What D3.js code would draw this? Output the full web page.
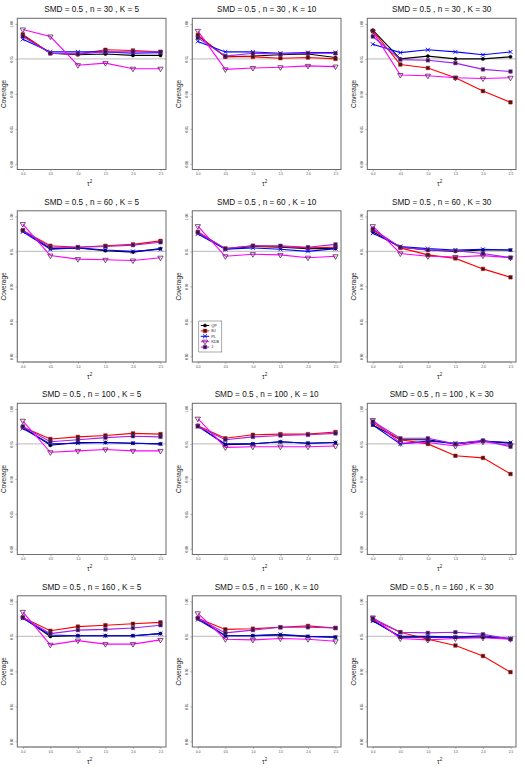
<!DOCTYPE html>
<html>
<head>
<meta charset="utf-8">
<script src="https://cdn.jsdelivr.net/npm/d3@7"></script>
<style>
  body { margin: 0; background: #fff; }
  svg { display: block; font-family: "Liberation Sans", Arial, sans-serif; }
</style>
</head>
<body>
<svg id="chart" width="525" height="770"></svg>
<script>
// x values (tau^2) and panel grid
const tau2 = [0, 0.5, 1.0, 1.5, 2.0, 2.5];
const tauLabels = ['0.0', '0.5', '1.0', '1.5', '2.0', '2.5'];
const yTicks = [0.80, 0.85, 0.90, 0.95, 1.00];
const nVals = [30, 60, 100, 160];
const kVals = [5, 10, 30];
const methods = ['QP', 'BJ', 'PL', 'KDB', 'J'];
const colors = ['#000000', '#ff0000', '#0000ff', '#ff00ff', '#a020f0'];

// coverage per panel (row-major: n = 30,60,100,160 ; K = 5,10,30)
const qp = [
  [0.984, 0.958, 0.956, 0.957, 0.955, 0.955],
  [0.983, 0.953, 0.954, 0.956, 0.957, 0.952],
  [0.991, 0.950, 0.954, 0.950, 0.950, 0.953],
  [0.980, 0.954, 0.955, 0.951, 0.949, 0.954],
  [0.977, 0.953, 0.957, 0.956, 0.954, 0.954],
  [0.978, 0.956, 0.952, 0.950, 0.952, 0.952],
  [0.974, 0.948, 0.952, 0.952, 0.951, 0.950],
  [0.976, 0.949, 0.950, 0.953, 0.951, 0.952],
  [0.977, 0.956, 0.956, 0.950, 0.954, 0.951],
  [0.977, 0.950, 0.951, 0.951, 0.951, 0.954],
  [0.976, 0.951, 0.951, 0.952, 0.950, 0.949],
  [0.973, 0.949, 0.949, 0.949, 0.949, 0.947]
];
const bj = [
  [0.985, 0.958, 0.957, 0.963, 0.962, 0.960],
  [0.984, 0.953, 0.953, 0.951, 0.952, 0.950],
  [0.990, 0.942, 0.937, 0.923, 0.904, 0.888],
  [0.980, 0.958, 0.956, 0.958, 0.960, 0.965],
  [0.978, 0.954, 0.958, 0.957, 0.955, 0.956],
  [0.981, 0.955, 0.945, 0.940, 0.925, 0.913],
  [0.974, 0.957, 0.960, 0.962, 0.965, 0.964],
  [0.976, 0.958, 0.963, 0.964, 0.964, 0.967],
  [0.980, 0.956, 0.950, 0.933, 0.930, 0.907],
  [0.977, 0.958, 0.964, 0.966, 0.968, 0.970],
  [0.976, 0.960, 0.961, 0.963, 0.965, 0.962],
  [0.974, 0.956, 0.946, 0.937, 0.922, 0.899]
];
const pl = [
  [0.978, 0.960, 0.960, 0.960, 0.958, 0.959],
  [0.975, 0.960, 0.960, 0.958, 0.959, 0.959],
  [0.971, 0.959, 0.963, 0.960, 0.956, 0.960],
  [0.978, 0.953, 0.955, 0.952, 0.950, 0.953],
  [0.975, 0.953, 0.955, 0.953, 0.950, 0.954],
  [0.976, 0.957, 0.954, 0.952, 0.953, 0.952],
  [0.972, 0.950, 0.951, 0.952, 0.951, 0.950],
  [0.975, 0.950, 0.950, 0.953, 0.951, 0.952],
  [0.977, 0.950, 0.954, 0.951, 0.954, 0.952],
  [0.976, 0.952, 0.951, 0.951, 0.951, 0.954],
  [0.974, 0.951, 0.951, 0.953, 0.950, 0.949],
  [0.972, 0.950, 0.950, 0.949, 0.951, 0.947]
];
const kdb = [
  [0.992, 0.982, 0.941, 0.944, 0.936, 0.936],
  [0.990, 0.935, 0.937, 0.938, 0.940, 0.939],
  [0.989, 0.927, 0.926, 0.923, 0.922, 0.923],
  [0.989, 0.944, 0.939, 0.938, 0.937, 0.941],
  [0.986, 0.943, 0.946, 0.945, 0.941, 0.943],
  [0.986, 0.947, 0.943, 0.942, 0.944, 0.941],
  [0.983, 0.938, 0.940, 0.942, 0.940, 0.940],
  [0.986, 0.945, 0.946, 0.946, 0.946, 0.947],
  [0.984, 0.951, 0.952, 0.947, 0.953, 0.948],
  [0.985, 0.938, 0.944, 0.939, 0.939, 0.945],
  [0.983, 0.946, 0.945, 0.947, 0.946, 0.943],
  [0.977, 0.947, 0.945, 0.947, 0.948, 0.946]
];
const jj = [
  [0.982, 0.958, 0.957, 0.960, 0.960, 0.960],
  [0.980, 0.954, 0.958, 0.957, 0.958, 0.958],
  [0.982, 0.949, 0.948, 0.944, 0.935, 0.932],
  [0.980, 0.956, 0.956, 0.957, 0.959, 0.963],
  [0.977, 0.954, 0.958, 0.958, 0.956, 0.960],
  [0.982, 0.956, 0.952, 0.951, 0.947, 0.941],
  [0.975, 0.953, 0.956, 0.959, 0.961, 0.960],
  [0.975, 0.956, 0.960, 0.962, 0.963, 0.965],
  [0.982, 0.958, 0.958, 0.950, 0.955, 0.946],
  [0.977, 0.954, 0.959, 0.960, 0.962, 0.966],
  [0.976, 0.955, 0.959, 0.963, 0.963, 0.962],
  [0.976, 0.956, 0.955, 0.956, 0.953, 0.946]
];
const seriesData = [qp, bj, pl, kdb, jj];

const svg = d3.select('#chart');

const colW = 175, rowH = 192.5;
const frame = { left: 17.3, right: 166, top: 18.3, bottom: 169.5 };

// R-style 4% padding on both axes
const x = d3.scaleLinear().domain([-0.1, 2.6]).range([frame.left, frame.right]);
const y = d3.scaleLinear().domain([0.792, 1.008]).range([frame.bottom, frame.top]);

const symbolFor = [d3.symbolCircle, d3.symbolSquare, d3.symbolTimes, d3.symbolTriangle, d3.symbolSquare];
const symSize = [8, 13, 12, 12, 13];

const line = d3.line().x((d, i) => x(tau2[i])).y(d => y(d));

const drawMarker = (g, m, px, py) => {
  const p = g.append('path')
    .attr('d', d3.symbol().type(symbolFor[m]).size(symSize[m])())
    .attr('transform', `translate(${px},${py})` + (m === 3 ? ' rotate(180)' : ''));
  if (m === 2) {
    p.attr('fill', 'none').attr('stroke', colors[m]).attr('stroke-width', 0.9);
  } else if (m === 3) {
    p.attr('fill', 'none').attr('stroke', '#552255').attr('stroke-width', 0.8);
  } else {
    p.attr('fill', m === 0 ? '#000' : '#222').attr('stroke', colors[m]).attr('stroke-width', 0.5);
  }
};

nVals.forEach((n, r) => {
  kVals.forEach((k, c) => {
    const idx = r * kVals.length + c;
    const g = svg.append('g').attr('transform', `translate(${c * colW},${r * rowH})`);

    // title
    g.append('text')
      .attr('x', (frame.left + frame.right) / 2)
      .attr('y', 12.3)
      .attr('text-anchor', 'middle')
      .attr('font-size', 8.2)
      .attr('fill', '#111')
      .text(`SMD = 0.5 , n = ${n} , K = ${k}`);

    // nominal 0.95 reference
    g.append('line')
      .attr('x1', frame.left).attr('x2', frame.right)
      .attr('y1', y(0.95)).attr('y2', y(0.95))
      .attr('stroke', '#c8c8c8').attr('stroke-width', 1.2);

    // series lines
    seriesData.forEach((s, m) => {
      g.append('path')
        .datum(s[idx])
        .attr('d', line)
        .attr('fill', 'none')
        .attr('stroke', colors[m])
        .attr('stroke-width', 1.1);
    });
    seriesData.forEach((s, m) => {
      s[idx].forEach((v, i) => drawMarker(g, m, x(tau2[i]), y(v)));
    });

    // frame
    g.append('rect')
      .attr('x', frame.left).attr('y', frame.top)
      .attr('width', frame.right - frame.left)
      .attr('height', frame.bottom - frame.top)
      .attr('fill', 'none').attr('stroke', '#6a6a6a').attr('stroke-width', 1);

    // x axis
    const xAxis = g.append('g').attr('transform', `translate(0,${frame.bottom})`)
      .call(d3.axisBottom(x).tickValues(tau2).tickFormat((d, i) => tauLabels[i]).tickSize(2).tickPadding(1.5));
    xAxis.select('.domain').attr('d', `M${x(0)},0H${x(2.5)}`).attr('stroke', '#777').attr('stroke-width', 0.5);
    xAxis.selectAll('.tick line').attr('stroke', '#777').attr('stroke-width', 0.5);
    xAxis.selectAll('text').attr('font-size', 3.2).attr('fill', '#444').attr('font-family', 'Liberation Sans, Arial, sans-serif');

    // y axis
    const yAxis = g.append('g').attr('transform', `translate(${frame.left},0)`)
      .call(d3.axisLeft(y).tickValues(yTicks).tickFormat(d3.format('.2f')).tickSize(2).tickPadding(1));
    yAxis.select('.domain').attr('d', `M0,${y(0.8)}V${y(1.0)}`).attr('stroke', '#777').attr('stroke-width', 0.5);
    yAxis.selectAll('.tick line').attr('stroke', '#777').attr('stroke-width', 0.5);
    yAxis.selectAll('text')
      .attr('font-size', 3.2).attr('fill', '#444').attr('font-family', 'Liberation Sans, Arial, sans-serif')
      .attr('x', null).attr('dy', null)
      .attr('text-anchor', 'middle')
      .attr('transform', 'translate(-4,0) rotate(-90)');

    // axis titles
    g.append('text')
      .attr('transform', `translate(5.5,${(frame.top + frame.bottom) / 2}) rotate(-90)`)
      .attr('text-anchor', 'middle')
      .attr('font-size', 6.5)
      .attr('fill', '#222')
      .text('Coverage');

    const xl = g.append('text')
      .attr('x', (frame.left + frame.right) / 2 - 2)
      .attr('y', 186)
      .attr('text-anchor', 'middle')
      .attr('font-size', 6.5)
      .attr('fill', '#222');
    xl.append('tspan').text('τ');
    xl.append('tspan').attr('font-size', 4.5).attr('dy', -3).text('2');

    // legend in the (n = 60, K = 10) panel
    if (r === 1 && c === 1) {
      const lg = g.append('g').attr('transform', `translate(${frame.left + 6.5},${frame.bottom - 41})`);
      lg.append('rect')
        .attr('width', 23).attr('height', 31)
        .attr('fill', '#fff').attr('stroke', '#555').attr('stroke-width', 0.5);
      methods.forEach((name, m) => {
        const ly = 4.5 + m * 5.4;
        lg.append('line')
          .attr('x1', 2).attr('x2', 10.5).attr('y1', ly).attr('y2', ly)
          .attr('stroke', colors[m]).attr('stroke-width', 1);
        drawMarker(lg, m, 6.2, ly);
        lg.append('text')
          .attr('x', 12.5).attr('y', ly + 1.3)
          .attr('font-size', 3.8).attr('fill', '#222')
          .text(name);
      });
    }
  });
});
</script>
</body>
</html>
